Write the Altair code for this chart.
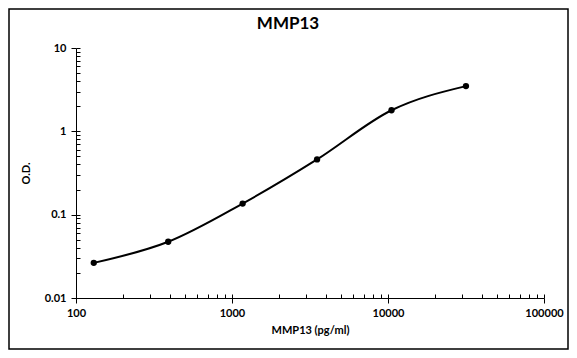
import altair as alt
import pandas as pd

# Data
conc = [130, 390, 1170, 3510, 10530, 31600]
od = [0.0264, 0.0473, 0.136, 0.46, 1.79, 3.49]

x_major = [100, 1000, 10000, 100000]
y_major = [0.01, 0.1, 1, 10]
x_minor = [100, 200, 300, 400, 500, 600, 700, 800, 900,
           1000, 2000, 3000, 4000, 5000, 6000, 7000, 8000, 9000,
           10000, 20000, 30000, 40000, 50000, 60000, 70000, 80000, 90000, 100000]
y_minor = [0.01, 0.02, 0.03, 0.04, 0.05, 0.06, 0.07, 0.08, 0.09,
           0.1, 0.2, 0.3, 0.4, 0.5, 0.6, 0.7, 0.8, 0.9,
           1, 2, 3, 4, 5, 6, 7, 8, 9, 10]

title_text = "MMP13"
x_title = "MMP13 (pg/ml)"
y_title = "O.D."

FONT = "Lato"
W, H = 468, 250

df = pd.DataFrame({"conc": conc, "od": od})

xscale = alt.Scale(type="log", domain=[100, 100000], nice=False)
yscale = alt.Scale(type="log", domain=[0.01, 10], nice=False)

line = alt.Chart(df).mark_line(interpolate="monotone", color="black", strokeWidth=2).encode(
    x=alt.X("conc:Q", scale=xscale,
            axis=alt.Axis(orient="bottom", values=x_major, format="d", title=x_title,
                          tickSize=5, labelPadding=4, titlePadding=6, grid=False,
                          labelFlush=False, labelOverlap=False)),
    y=alt.Y("od:Q", scale=yscale,
            axis=alt.Axis(orient="left", values=y_major, format="~g", title=y_title,
                          tickSize=5, labelPadding=5, titlePadding=13, grid=False,
                          labelFlush=False, labelOverlap=False)),
)

points = alt.Chart(df).mark_circle(size=40, color="black", opacity=1).encode(
    x=alt.X("conc:Q", scale=xscale,
            axis=alt.Axis(orient="top", offset=-H, values=x_minor, labels=False,
                          domain=False, tickSize=4, title="", grid=False)),
    y=alt.Y("od:Q", scale=yscale,
            axis=alt.Axis(orient="right", offset=-W, values=y_minor, labels=False,
                          domain=False, tickSize=4, title="", grid=False)),
)

title = alt.Chart(pd.DataFrame({"t": [title_text]})).mark_text(
    font=FONT, fontSize=17, fontWeight="bold", color="black",
    align="center", baseline="middle",
).encode(x=alt.value(212), y=alt.value(-24), text="t:N")

border = alt.Chart(pd.DataFrame({"a": [0]})).mark_rect(
    fill="transparent", stroke="black", strokeWidth=1.5,
).encode(x=alt.value(-67), x2=alt.value(492), y=alt.value(-39), y2=alt.value(301))

chart = alt.layer(border, line, points, title).resolve_axis(
    x="independent", y="independent"
).properties(
    width=W, height=H,
    autosize=alt.AutoSizeParams(type="none"),
    padding={"left": 68, "top": 40, "right": 25, "bottom": 52},
).configure_view(stroke=None).configure_axis(
    domainColor="black", tickColor="black", domainWidth=1, tickWidth=1,
    labelFont=FONT, labelFontWeight="bold", labelFontSize=11, labelColor="black",
    titleFont=FONT, titleFontWeight="bold", titleFontSize=11, titleColor="black",
)

chart.save("out.html", embed_options={"renderer": "svg", "actions": False})
